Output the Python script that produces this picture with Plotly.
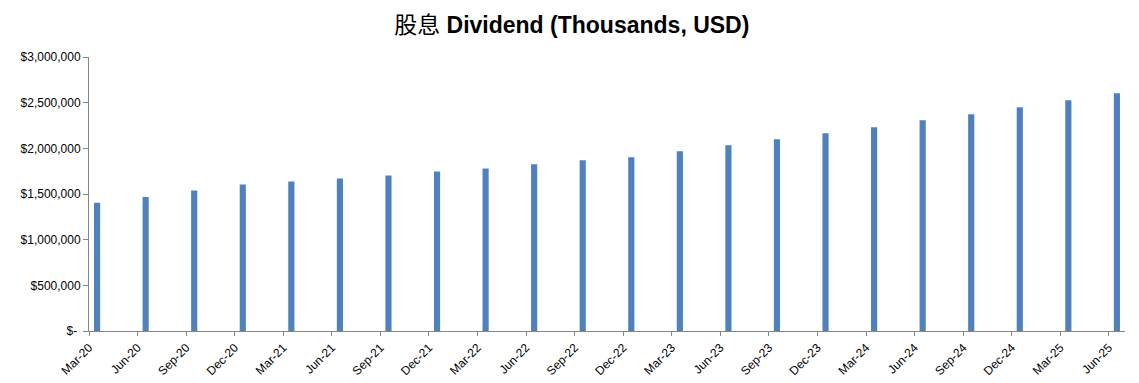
import plotly.graph_objects as go

# Data
quarters = ["Mar-20", "Jun-20", "Sep-20", "Dec-20",
            "Mar-21", "Jun-21", "Sep-21", "Dec-21",
            "Mar-22", "Jun-22", "Sep-22", "Dec-22",
            "Mar-23", "Jun-23", "Sep-23", "Dec-23",
            "Mar-24", "Jun-24", "Sep-24", "Dec-24",
            "Mar-25", "Jun-25"]
dividend = [1405000, 1468000, 1538000, 1604000,
            1637000, 1670000, 1703000, 1747000,
            1780000, 1826000, 1870000, 1903000,
            1967000, 2033000, 2099000, 2165000,
            2231000, 2308000, 2374000, 2451000,
            2527000, 2604000]
y_ticks = [0, 500000, 1000000, 1500000, 2000000, 2500000, 3000000]
y_labels = ["$- ", "$500,000", "$1,000,000", "$1,500,000", "$2,000,000", "$2,500,000", "$3,000,000"]

MONTHS = {"Jan": 1, "Feb": 2, "Mar": 3, "Apr": 4, "May": 5, "Jun": 6,
          "Jul": 7, "Aug": 8, "Sep": 9, "Oct": 10, "Nov": 11, "Dec": 12}


def month_index(label):
    m, y = label.split("-")
    return (2000 + int(y) - 2020) * 12 + MONTHS[m] - 3


tick_pos = [month_index(q) for q in quarters]
bar_pos = [p + 0.5 for p in tick_pos]

fig = go.Figure(go.Bar(
    x=bar_pos, y=dividend, width=0.38,
    marker=dict(color="#4F81BD", line=dict(width=0)),
    hovertext=quarters,
))

axis_color = "#868686"
fig.update_layout(
    width=1139, height=383,
    margin=dict(l=89, r=14, t=57, b=52, autoexpand=False),
    paper_bgcolor="white", plot_bgcolor="white",
    showlegend=False,
    title=dict(
        text="股息 <b>Dividend (Thousands, USD)</b>",
        x=0.502, xanchor="center", xref="container", y=0.936, yanchor="middle", yref="container",
        font=dict(family="Liberation Sans, Noto Sans CJK SC", size=23, color="black"),
    ),
    font=dict(family="Liberation Sans, Arial, sans-serif", size=12, color="black"),
)
fig.update_xaxes(
    range=[0, tick_pos[-1] + 1],
    tickmode="array", tickvals=tick_pos, ticktext=quarters,
    tickangle=-45, ticks="outside", ticklen=4, tickcolor=axis_color,
    showline=True, linecolor=axis_color, linewidth=1,
    showgrid=False, zeroline=False, automargin=False,
    tickfont=dict(size=12),
)
fig.update_yaxes(
    range=[0, 3000000],
    tickmode="array", tickvals=y_ticks, ticktext=y_labels,
    ticks="outside", ticklen=5, tickcolor=axis_color,
    showline=True, linecolor=axis_color, linewidth=1,
    showgrid=False, zeroline=False, automargin=False,
    tickfont=dict(size=12),
)

fig.write_html(
    "out.html",
    config={"displayModeBar": False},
    post_script="document.body.style.margin='0';document.body.style.overflow='hidden';",
)
